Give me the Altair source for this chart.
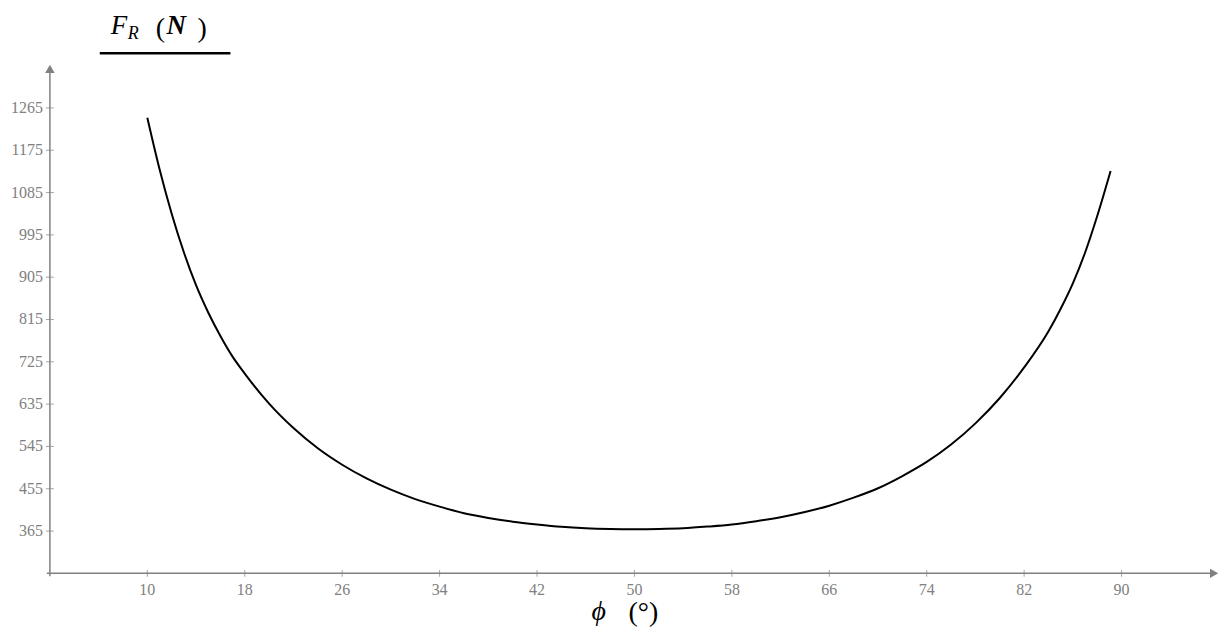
import altair as alt
import pandas as pd

# Curve values
phi = [10, 11, 12, 13, 14, 15, 16, 17, 18, 20, 22, 24, 26, 28, 30, 32, 34, 36, 38,
       40, 42, 44, 46, 48, 50, 52, 54, 56, 58, 60, 62, 64, 66, 68, 70, 72, 74, 76,
       78, 80, 82, 84, 85, 86, 87, 88, 89.1]
force = [1244, 1135, 1040, 958, 888, 830, 780, 736, 700, 636, 584, 541, 506, 477,
         453, 433, 417, 403, 393, 385, 379, 374, 371, 369.5, 369, 369.5, 371, 374.5,
         379, 386, 394.5, 405.5, 419, 436, 456, 482, 512, 549, 594, 648, 713, 790,
         838, 892, 957, 1035, 1131]

x_ticks = [10, 18, 26, 34, 42, 50, 58, 66, 74, 82, 90]
y_ticks = [365, 455, 545, 635, 725, 815, 905, 995, 1085, 1175, 1265]

X_MIN, X_MAX = 2, 98
Y_MIN, Y_MAX = 275, 1355

AXIS_GRAY = "#808080"
SERIF = "Liberation Serif"

xs = alt.Scale(domain=[X_MIN, X_MAX], nice=False, zero=False)
ys = alt.Scale(domain=[Y_MIN, Y_MAX], nice=False, zero=False)

curve_df = pd.DataFrame({"phi": phi, "F": force})
xt_df = pd.DataFrame({"v": x_ticks, "y0": [Y_MIN] * len(x_ticks), "lab": [str(t) for t in x_ticks]})
yt_df = pd.DataFrame({"v": y_ticks, "x0": [X_MIN] * len(y_ticks), "lab": [str(t) for t in y_ticks]})

xaxis_df = pd.DataFrame({"x": [X_MIN - 0.25], "x2": [X_MAX - 0.4], "y": [Y_MIN]})
yaxis_df = pd.DataFrame({"y": [Y_MIN - 6], "y2": [Y_MAX - 7], "x": [X_MIN]})
arrow_df = pd.DataFrame({"x": [X_MAX - 0.4, X_MIN], "y": [Y_MIN, Y_MAX - 7],
                         "shape": ["triangle-right", "triangle-up"]})

line = alt.Chart(curve_df).mark_line(color="black", strokeWidth=2, interpolate="monotone").encode(
    x=alt.X("phi:Q", scale=xs, axis=None),
    y=alt.Y("F:Q", scale=ys, axis=None),
)

x_axis = alt.Chart(xaxis_df).mark_rule(color=AXIS_GRAY, strokeWidth=1.5).encode(
    x=alt.X("x:Q", scale=xs, axis=None), x2="x2:Q", y=alt.Y("y:Q", scale=ys, axis=None))
y_axis = alt.Chart(yaxis_df).mark_rule(color=AXIS_GRAY, strokeWidth=1.5).encode(
    y=alt.Y("y:Q", scale=ys, axis=None), y2="y2:Q", x=alt.X("x:Q", scale=xs, axis=None))

arrows = alt.Chart(arrow_df).mark_point(filled=True, color=AXIS_GRAY, size=90, opacity=1).encode(
    x=alt.X("x:Q", scale=xs, axis=None), y=alt.Y("y:Q", scale=ys, axis=None),
    shape=alt.Shape("shape:N", scale=None))

x_tick_marks = alt.Chart(xt_df).mark_tick(orient="vertical", color=AXIS_GRAY, size=7, thickness=1).encode(
    x=alt.X("v:Q", scale=xs, axis=None), y=alt.Y("y0:Q", scale=ys, axis=None))
y_tick_marks = alt.Chart(yt_df).mark_tick(orient="horizontal", color=AXIS_GRAY, size=8, thickness=1).encode(
    y=alt.Y("v:Q", scale=ys, axis=None), x=alt.X("x0:Q", scale=xs, axis=None))

x_labels = alt.Chart(xt_df).mark_text(font=SERIF, fontSize=16, color=AXIS_GRAY, align="center",
                                       baseline="alphabetic", dy=22).encode(
    x=alt.X("v:Q", scale=xs, axis=None), y=alt.Y("y0:Q", scale=ys, axis=None), text="lab:N")
y_labels = alt.Chart(yt_df).mark_text(font=SERIF, fontSize=16, color=AXIS_GRAY, align="right",
                                       baseline="middle", dx=-7).encode(
    y=alt.Y("v:Q", scale=ys, axis=None), x=alt.X("x0:Q", scale=xs, axis=None), text="lab:N")

# Axis titles built from pieces (italic F with subscript R, bold italic N)
def txt(s, x, y, size, style="normal", weight="normal", align="left"):
    return alt.Chart(pd.DataFrame({"t": [s]})).mark_text(
        font=SERIF, fontSize=size, fontStyle=style, fontWeight=weight, color="black",
        align=align, baseline="alphabetic").encode(
        x=alt.value(x), y=alt.value(y), text="t:N")

title_parts = [
    txt("F", 61, -32, 27, style="italic"),
    txt("R", 78, -27, 18, style="italic"),
    txt("(", 106, -29, 28),
    txt("N", 117, -32, 27, style="italic", weight="bold"),
    txt(")", 148, -29, 28),
]
underline = alt.Chart(pd.DataFrame({"a": [0]})).mark_rule(color="black", strokeWidth=2.5).encode(
    x=alt.value(50), x2=alt.value(181), y=alt.value(-12.5))

xlabel_parts = [
    txt("ϕ", 543, 556, 28, style="italic"),
    txt("(°)", 580, 557, 28),
]

chart = alt.layer(
    x_axis, y_axis, arrows, x_tick_marks, y_tick_marks, x_labels, y_labels, line,
    underline, *title_parts, *xlabel_parts
).properties(
    width=1172, height=509,
    autosize=alt.AutoSizeParams(type="none"),
    padding={"left": 42, "top": 57, "right": 0, "bottom": 58},
).configure_view(stroke=None)

chart.save("out.html", embed_options={"renderer": "svg", "actions": False})
